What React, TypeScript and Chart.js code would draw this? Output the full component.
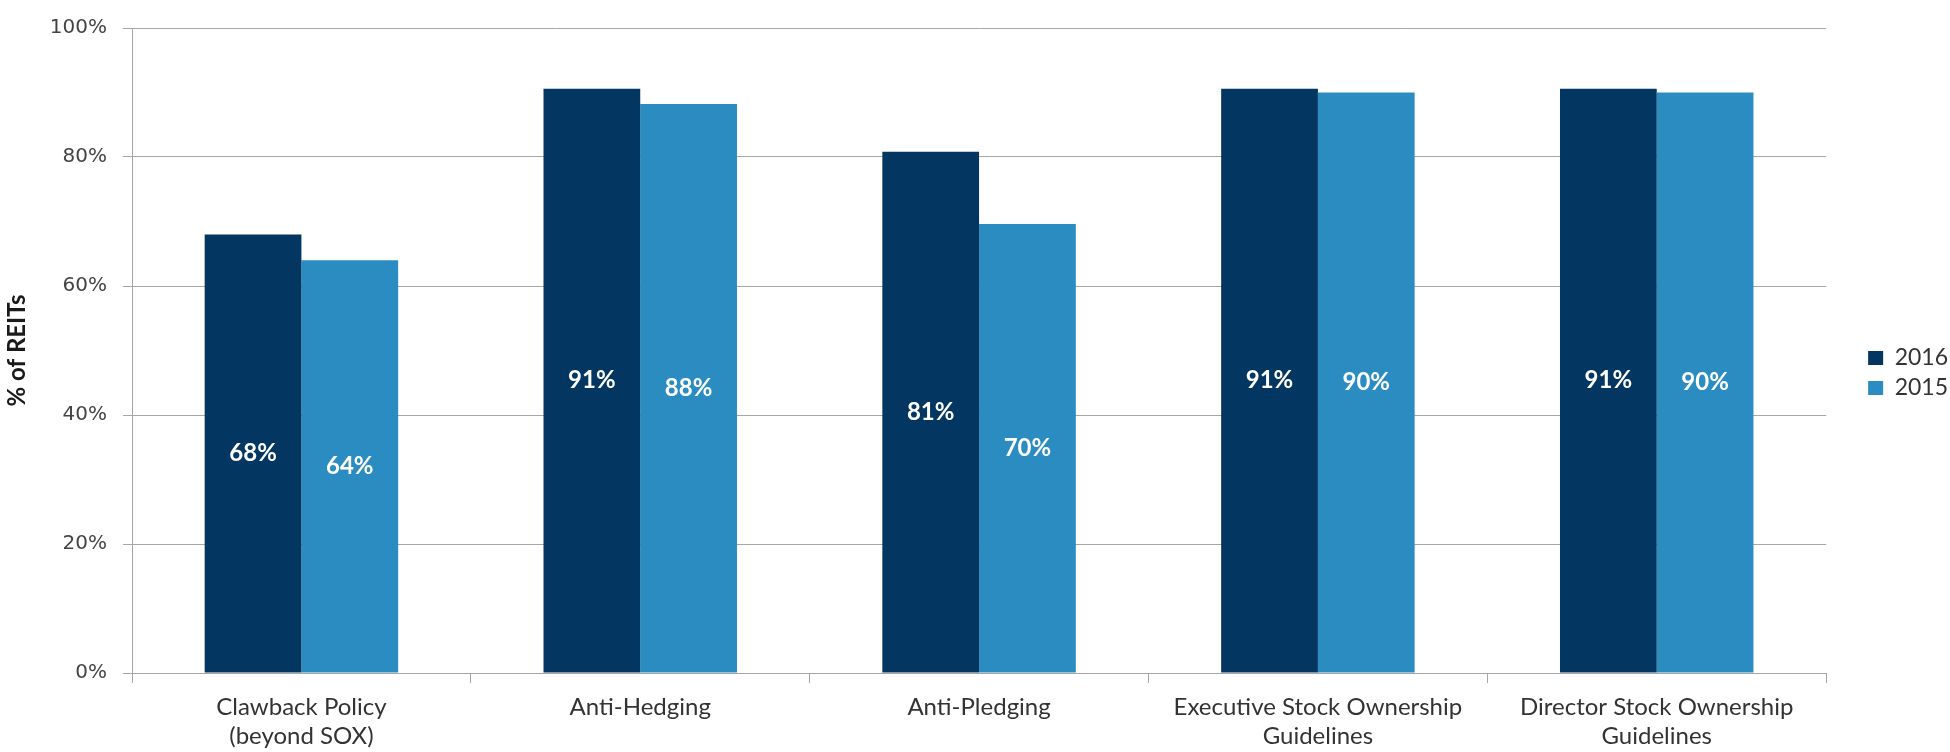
import React, { useEffect, useRef } from "react";
import { Chart, registerables } from "chart.js";

Chart.register(...registerables);

const categories: string[][] = [
  ["Clawback Policy", "(beyond SOX)"],
  ["Anti-Hedging"],
  ["Anti-Pledging"],
  ["Executive Stock Ownership", "Guidelines"],
  ["Director Stock Ownership", "Guidelines"],
];
const series2016: number[] = [68, 90.6, 80.8, 90.6, 90.6];
const series2015: number[] = [64, 88.2, 69.6, 90, 90];
const seriesLabels: string[] = ["2016", "2015"];
const yTicks: number[] = [0, 20, 40, 60, 80, 100];

const DARK = "#033660";
const LIGHT = "#2a8cc1";
const GRID = "#a6a6a6";

const dataLabelPlugin = {
  id: "barValueLabels",
  afterDatasetsDraw(chart: any) {
    const ctx = chart.ctx;
    ctx.save();
    ctx.font = "bold 24px Lato";
    ctx.fillStyle = "#ffffff";
    ctx.textAlign = "center";
    ctx.textBaseline = "middle";
    chart.data.datasets.forEach((ds: any, i: number) => {
      const meta = chart.getDatasetMeta(i);
      meta.data.forEach((el: any, j: number) => {
        const v = ds.data[j] as number;
        const y = (el.y + el.base) / 2;
        ctx.fillText(Math.round(v) + "%", el.x, y);
      });
    });
    ctx.restore();
  },
};

export default function App() {
  const ref = useRef<HTMLCanvasElement | null>(null);
  useEffect(() => {
    if (!ref.current) return;
    const chart = new Chart(ref.current, {
      type: "bar",
      data: {
        labels: categories,
        datasets: [
          {
            label: seriesLabels[0],
            data: series2016,
            backgroundColor: DARK,
            borderWidth: 0,
            categoryPercentage: 0.571,
            barPercentage: 1,
          },
          {
            label: seriesLabels[1],
            data: series2015,
            backgroundColor: LIGHT,
            borderWidth: 0,
            categoryPercentage: 0.571,
            barPercentage: 1,
          },
        ],
      },
      options: {
        responsive: false,
        animation: false,
        devicePixelRatio: 1,
        layout: { padding: { top: 22, right: -8, bottom: 0, left: 0 } },
        plugins: {
          tooltip: { enabled: false },
          legend: {
            position: "right",
            align: "start",
            title: {
              display: true,
              text: "",
              font: { size: 1, lineHeight: 1 },
              padding: { top: 316.5, bottom: 0 },
            },
            labels: {
              boxWidth: 15,
              boxHeight: 14,
              padding: 7,
              color: "#333333",
              font: { family: "Lato", size: 23 },
            },
          },
        },
        scales: {
          x: {
            offset: true,
            grid: {
              offset: true,
              drawOnChartArea: false,
              drawTicks: true,
              tickLength: 10,
              color: GRID,
              lineWidth: 1,
            },
            border: { display: true, color: GRID, width: 1 },
            ticks: {
              color: "#333333",
              padding: 10,
              maxRotation: 0,
              autoSkip: false,
              font: { family: "Lato", size: 24, lineHeight: 1.2 },
            },
            afterFit: (s: any) => {
              s.height = 79;
            },
          },
          y: {
            min: 0,
            max: 100,
            afterBuildTicks: (s: any) => {
              s.ticks = yTicks.map((v) => ({ value: v }));
            },
            grid: {
              color: GRID,
              lineWidth: 1,
              drawTicks: true,
              tickLength: 9,
            },
            border: { display: true, color: GRID, width: 1 },
            ticks: {
              color: "#444444",
              padding: 16,
              font: { family: "DejaVu Sans", size: 20 },
              callback: (v: any) => v + "%",
            },
            title: {
              display: true,
              text: "% of REITs",
              color: "#1a1a1a",
              padding: { top: 3, bottom: 0 },
              font: { family: "Lato", size: 24, weight: "bold", lineHeight: 1.2 },
            },
            afterFit: (s: any) => {
              s.width = 132;
            },
          },
          gap: {
            type: "linear",
            position: "right",
            display: true,
            grid: { display: false, drawTicks: false },
            border: { display: false },
            ticks: { display: false },
            afterFit: (s: any) => {
              s.width = 35;
            },
          },
        },
      },
      plugins: [dataLabelPlugin],
    } as any);
    return () => chart.destroy();
  }, []);
  return (
    <div style={{ position: "fixed", left: 0, top: 0, width: 1950, height: 752, background: "#ffffff" }}>
      <canvas ref={ref} width={1950} height={752} style={{ width: 1950, height: 752, display: "block" }} />
    </div>
  );
}
